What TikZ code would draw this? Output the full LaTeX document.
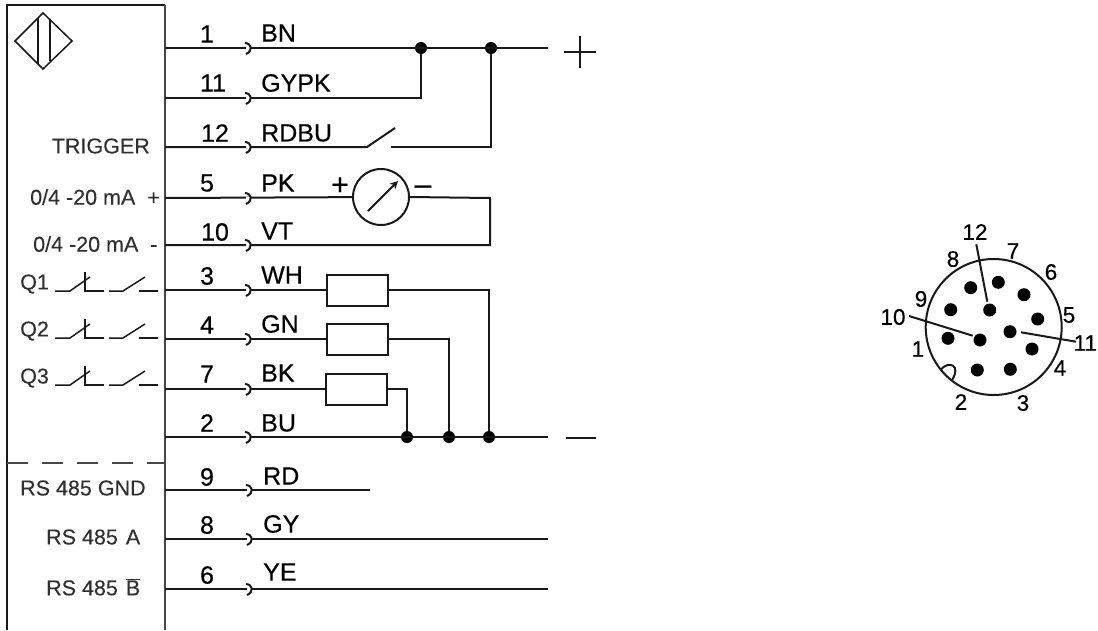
\documentclass[tikz,border=0pt]{standalone}
\usepackage{fontspec}
\setmainfont{Liberation Sans}
\newfontfamily\heavyfont[FakeBold=0.35]{Liberation Sans}
\newfontfamily\midfont[FakeBold=0.15]{Liberation Sans}
\usetikzlibrary{arrows.meta}
\definecolor{ink}{gray}{0.1}
\tikzset{
  wire/.style={line width=2pt,draw=ink},
  sidelabel/.style={font=\midfont\fontsize{21.5}{24}\selectfont,text=ink!90,inner sep=0pt},
  wirenum/.style={font=\heavyfont\fontsize{25}{26}\selectfont,text=black,inner sep=0pt},
  wirecol/.style={font=\heavyfont\fontsize{25}{26}\selectfont,text=black,anchor=west,inner sep=0pt},
  pinlabel/.style={font=\heavyfont\fontsize{22.5}{24}\selectfont,text=black,inner sep=0pt},
  signlabel/.style={font=\heavyfont\fontsize{30}{32}\selectfont,text=black,inner sep=0pt},
  loadbox/.style={rectangle,draw=ink,line width=2pt,minimum width=61pt,minimum height=31pt,inner sep=0pt,fill=white},
  meterbox/.style={circle,draw=ink,line width=2pt,minimum size=56pt,inner sep=0pt},
  joint/.style={circle,fill=black,minimum size=12pt,inner sep=0pt},
  pinhole/.style={circle,fill=black,minimum size=13pt,inner sep=0pt},
  plug/.pic={\draw [line width=2pt,draw=white] (-3,0) to (2,0);
    \draw [line width=2pt,draw=ink] (-4,-5) .. controls (3,-4.5) and (4,3) .. (-3,6);},
  contacts/.pic={\draw [line width=1.5pt,draw=ink] (55,0) -- (70,0) -- (90,-14);
    \draw [line width=1.5pt,draw=ink] (85,-19) -- (85,0) -- (104,0);
    \draw [line width=1.5pt,draw=ink] (109,0) -- (123,0) -- (145,-14);
    \draw [line width=1.5pt,draw=ink] (139,0) -- (158,0);}
}
\begin{document}
\begin{tikzpicture}[x=1pt,y=-1pt]
\useasboundingbox [fill=white] (0,0) rectangle (1098,630);
% housing
\coordinate (TL) at (7,5);
\coordinate (TR) at (165,5);
\coordinate (BL) at (7,630);
\coordinate (BR) at (165,630);
\draw [line width=2pt,draw=ink] (BL) -- (TL) -- (TR);
\draw [line width=1.6pt,draw=ink!80] (TR) -- (BR);
\coordinate (DL) at (7,463);
\coordinate (DR) at (165,463);
\draw [line width=1.5pt,draw=ink!80,dash pattern=on 21pt off 14pt] (DL) -- (DR);
% sensor symbol
\coordinate (SW) at (15,41);
\coordinate (SN) at (43,13);
\coordinate (SE) at (72,41);
\coordinate (SS) at (43,69);
\draw [line width=1.5pt,draw=ink] (SW) -- (SN) -- (SE) -- (SS) -- cycle;
\draw [line width=1.5pt,draw=ink] (38,18) -- (38,64);
\draw [line width=1.5pt,draw=ink] (50,20) -- (50,61);
% left labels
\node [sidelabel,anchor=east] (trig) at (150,146) {TRIGGER};
\node [sidelabel,anchor=west] (mAp) at (30,197) {0/4 -20 mA\ \ +};
\node [sidelabel,anchor=west] (mAm) at (33,244) {0/4 -20 mA\ \ -};
\node [sidelabel,anchor=west] (Q1) at (20,284) {Q1};
\node [sidelabel,anchor=west] (Q2) at (20,331) {Q2};
\node [sidelabel,anchor=west] (Q3) at (20,378) {Q3};
\pic at (0,291) {contacts};
\pic at (0,338) {contacts};
\pic at (0,385) {contacts};
\node [sidelabel,anchor=west] (gnd) at (20,488) {RS 485 GND};
\node [sidelabel,anchor=west] (rsA) at (46,537) {RS 485\hspace{8pt}A};
\node [sidelabel,anchor=west] (rsB) at (46,587) {RS 485\hspace{8pt}$\overline{\mbox{B}}$};
% wires
\coordinate (w1) at (165,48);
\coordinate (w11) at (165,98);
\coordinate (w12) at (165,147);
\coordinate (w5) at (165,198);
\coordinate (w10) at (165,245);
\coordinate (w3) at (165,290);
\coordinate (w4) at (165,339);
\coordinate (w7) at (165,389);
\coordinate (w2) at (165,437);
\coordinate (w9) at (165,490);
\coordinate (w8) at (165,539);
\coordinate (w6) at (165,589);
\coordinate (plus) at (548,48);
\coordinate (minus) at (548,437);
\node [joint] (a) at (421,48) {};
\node [joint] (b) at (491,48) {};
\node [joint] (c) at (407,437) {};
\node [joint] (d) at (449,437) {};
\node [joint] (e) at (489,437) {};
\draw [wire] (w1) -- (plus);
\draw [wire] (w11) -| (a);
\coordinate (s1) at (367,147);
\coordinate (s2) at (395,128);
\coordinate (s3) at (391,147);
\draw [wire] (w12) -- (s1) -- (s2);
\draw [wire] (s3) -| (b);
\node [meterbox] (M) at (381,197) {};
\draw [wire] (w5) -- (M);
\coordinate (m1) at (490,198);
\coordinate (m2) at (490,245);
\draw [wire] (M.east) -- (m1) -- (m2) -- (w10);
\coordinate (n1) at (368,211);
\coordinate (n2) at (398,181);
\draw [line width=2pt,draw=ink,-{Stealth[length=8pt,width=8pt]}] (n1) -- (n2);
\node [loadbox] (R3) at (357,290) {};
\node [loadbox] (R4) at (357,339) {};
\node [loadbox] (R7) at (356.5,389) {};
\draw [wire] (w3) -- (R3);
\draw [wire] (w4) -- (R4);
\draw [wire] (w7) -- (R7);
\draw [wire] (R3) -| (e);
\draw [wire] (R4) -| (d);
\draw [wire] (R7) -| (c);
\draw [wire] (w2) -- (minus);
\coordinate (e9) at (370,490);
\coordinate (e8) at (548,539);
\coordinate (e6) at (548,589);
\draw [wire] (w9) -- (e9);
\draw [wire] (w8) -- (e8);
\draw [wire] (w6) -- (e6);
% plugs
\pic at (249,48) {plug};
\pic at (249,98) {plug};
\pic at (249,147) {plug};
\pic at (249,198) {plug};
\pic at (249,245) {plug};
\pic at (249,290) {plug};
\pic at (249,339) {plug};
\pic at (249,389) {plug};
\pic at (249,437) {plug};
\pic at (250,490) {plug};
\pic at (250,539) {plug};
\pic at (250,589) {plug};
% wire numbers
\node [wirenum] (n1t) at (207,34) {1};
\node [wirenum] (n11t) at (213,83) {11};
\node [wirenum] (n12t) at (215,133) {12};
\node [wirenum] (n5t) at (207,183) {5};
\node [wirenum] (n10t) at (215,232) {10};
\node [wirenum] (n3t) at (207,276) {3};
\node [wirenum] (n4t) at (207,325) {4};
\node [wirenum] (n7t) at (207,374) {7};
\node [wirenum] (n2t) at (207,423) {2};
\node [wirenum] (n9t) at (207,477) {9};
\node [wirenum] (n8t) at (207,525) {8};
\node [wirenum] (n6t) at (207,575) {6};
% wire colours
\node [wirecol] (BN) at (261,33) {BN};
\node [wirecol] (GYPK) at (261,83) {GYPK};
\node [wirecol] (RDBU) at (261,133) {RDBU};
\node [wirecol] (PK) at (261,183) {PK};
\node [wirecol] (VT) at (261,231) {VT};
\node [wirecol] (WH) at (261,275) {WH};
\node [wirecol] (GN) at (261,324) {GN};
\node [wirecol] (BK) at (261,373) {BK};
\node [wirecol] (BU) at (261,423) {BU};
\node [wirecol] (RD) at (263,476) {RD};
\node [wirecol] (GY) at (263,524) {GY};
\node [wirecol] (YE) at (263,572) {YE};
% signs
\node [signlabel] (mp) at (340,186) {+};
\node [signlabel] (mm) at (423,190) {–};
\coordinate (pl) at (564,52);
\coordinate (pr) at (596,52);
\coordinate (pt) at (580,36);
\coordinate (pb) at (580,68);
\draw [line width=2pt,draw=ink] (pl) -- (pr);
\draw [line width=2pt,draw=ink] (pt) -- (pb);
\coordinate (ml) at (566,438);
\coordinate (mr) at (596,438);
\draw [line width=2.5pt,draw=ink] (ml) -- (mr);
% connector
\node [circle,draw=ink,line width=2pt,minimum size=136pt,inner sep=0pt] (C) at (993.7,327) {};
\node [pinhole] (p8) at (970.7,287.7) {};
\node [pinhole] (p7) at (998.3,282.3) {};
\node [pinhole] (p6) at (1024,294.7) {};
\node [pinhole] (p5) at (1037.7,319) {};
\node [pinhole] (p4) at (1032,349) {};
\node [pinhole] (p3) at (1010.3,369.3) {};
\node [pinhole] (p2) at (977.3,370) {};
\node [pinhole] (p1) at (948,338.3) {};
\node [pinhole] (p9) at (950.7,309.7) {};
\node [pinhole] (p12) at (989.7,310) {};
\node [pinhole] (p11) at (1010,331.7) {};
\node [pinhole] (p10) at (980,340) {};
\coordinate (l12) at (976.3,244.3);
\coordinate (l10) at (909,316);
\coordinate (l11) at (1076,341.7);
\coordinate (h12) at (987.3,301.7);
\coordinate (h10) at (972.7,335.7);
\coordinate (h11) at (1021,332.3);
\draw [wire] (l12) -- (h12);
\draw [wire] (l10) -- (h10);
\draw [wire] (l11) -- (h11);
\coordinate (k1) at (941,369.3);
\coordinate (k2) at (951.7,380.7);
\draw [wire] (k1) .. controls (948,361) and (962,364) .. (k2);
\node [pinlabel] (t12) at (975,232) {12};
\node [pinlabel] (t7) at (1013,251) {7};
\node [pinlabel] (t8) at (953,259) {8};
\node [pinlabel] (t6) at (1051,272) {6};
\node [pinlabel] (t9) at (921,299) {9};
\node [pinlabel] (t10) at (893,317) {10};
\node [pinlabel] (t5) at (1069,315) {5};
\node [pinlabel] (t1) at (918,349) {1};
\node [pinlabel] (t11) at (1085.4,343) {11};
\node [pinlabel] (t4) at (1060,368) {4};
\node [pinlabel] (t2) at (961,402) {2};
\node [pinlabel] (t3) at (1023,403) {3};
\end{tikzpicture}
\end{document}
